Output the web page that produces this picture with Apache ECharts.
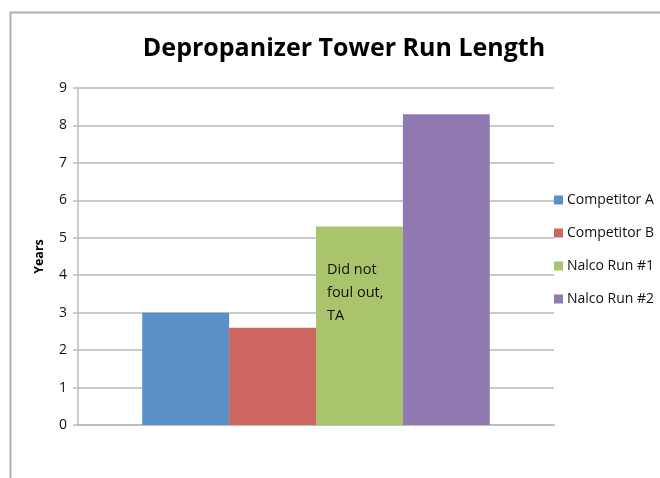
<!DOCTYPE html>
<html>
<head>
<meta charset="utf-8">
<script src="https://cdn.jsdelivr.net/npm/echarts@6/dist/echarts.min.js"></script>
<style>
html,body{margin:0;padding:0;background:#fff;}
#c{width:660px;height:478px;}
</style>
</head>
<body>
<div id="c"></div>
<script>
const title = 'Depropanizer Tower Run Length';
const categories = [''];
const seriesNames = ['Competitor A', 'Competitor B', 'Nalco Run #1', 'Nalco Run #2'];
const seriesValues = [3.0, 2.6, 5.3, 8.3];
const seriesColors = ['#5b8fc7', '#cd665e', '#aac46b', '#8f79b0'];
const annotation = 'Did not\nfoul out,\nTA';
const yTicks = [0, 1, 2, 3, 4, 5, 6, 7, 8, 9];
const yName = 'Years';

const FONT = 'Open Sans';
const chart = echarts.init(document.getElementById('c'));
chart.setOption({
  backgroundColor: '#fff',
  animation: false,
  title: {
    text: title, left: 339, top: 31, textAlign: 'center',
    textStyle: { fontFamily: FONT, fontWeight: 'bold', fontSize: 25, color: '#000' }
  },
  graphic: [
    { type: 'polyline', shape: { points: [[10.5, 478], [10.5, 12.5], [660, 12.5]] },
      style: { stroke: '#b0b0b0', lineWidth: 2, fill: null } }
  ],
  legend: {
    orient: 'vertical', left: 549, top: 185, itemGap: 13,
    itemWidth: 9, itemHeight: 9, icon: 'rect',
    textStyle: { fontFamily: FONT, fontSize: 14, lineHeight: 20, color: '#111', padding: [0, 0, 0, -1] },
    data: seriesNames
  },
  grid: { left: 78, right: 106, top: 88, bottom: 53, containLabel: false },
  xAxis: {
    type: 'category', data: categories,
    axisLine: { lineStyle: { color: '#bdbdbd', width: 2 } },
    axisTick: { show: false }, axisLabel: { show: false }
  },
  yAxis: {
    type: 'value', min: yTicks[0], max: yTicks[yTicks.length - 1], interval: 1,
    name: yName, nameLocation: 'middle', nameGap: 32, nameRotate: 90,
    nameTextStyle: { fontFamily: FONT, fontWeight: 'bold', fontSize: 12.5, color: '#000' },
    axisLine: { show: true, lineStyle: { color: '#bdbdbd', width: 1.5 } },
    axisTick: { show: true, length: 5, lineStyle: { color: '#bdbdbd', width: 1.5 } },
    axisLabel: { fontFamily: FONT, fontSize: 14, color: '#111', margin: 11 },
    splitLine: { lineStyle: { color: '#b8b8b8', width: 1.5 } }
  },
  series: seriesNames.map((n, i) => ({
    name: n, type: 'bar', barGap: '0%', barCategoryGap: '27%',
    itemStyle: { color: seriesColors[i] },
    data: [{
      value: seriesValues[i],
      label: i === 2 ? {
        show: true, formatter: annotation, position: [11, 32],
        fontFamily: FONT, fontSize: 14.5, lineHeight: 23, color: '#111'
      } : { show: false }
    }]
  }))
});
</script>
</body>
</html>
